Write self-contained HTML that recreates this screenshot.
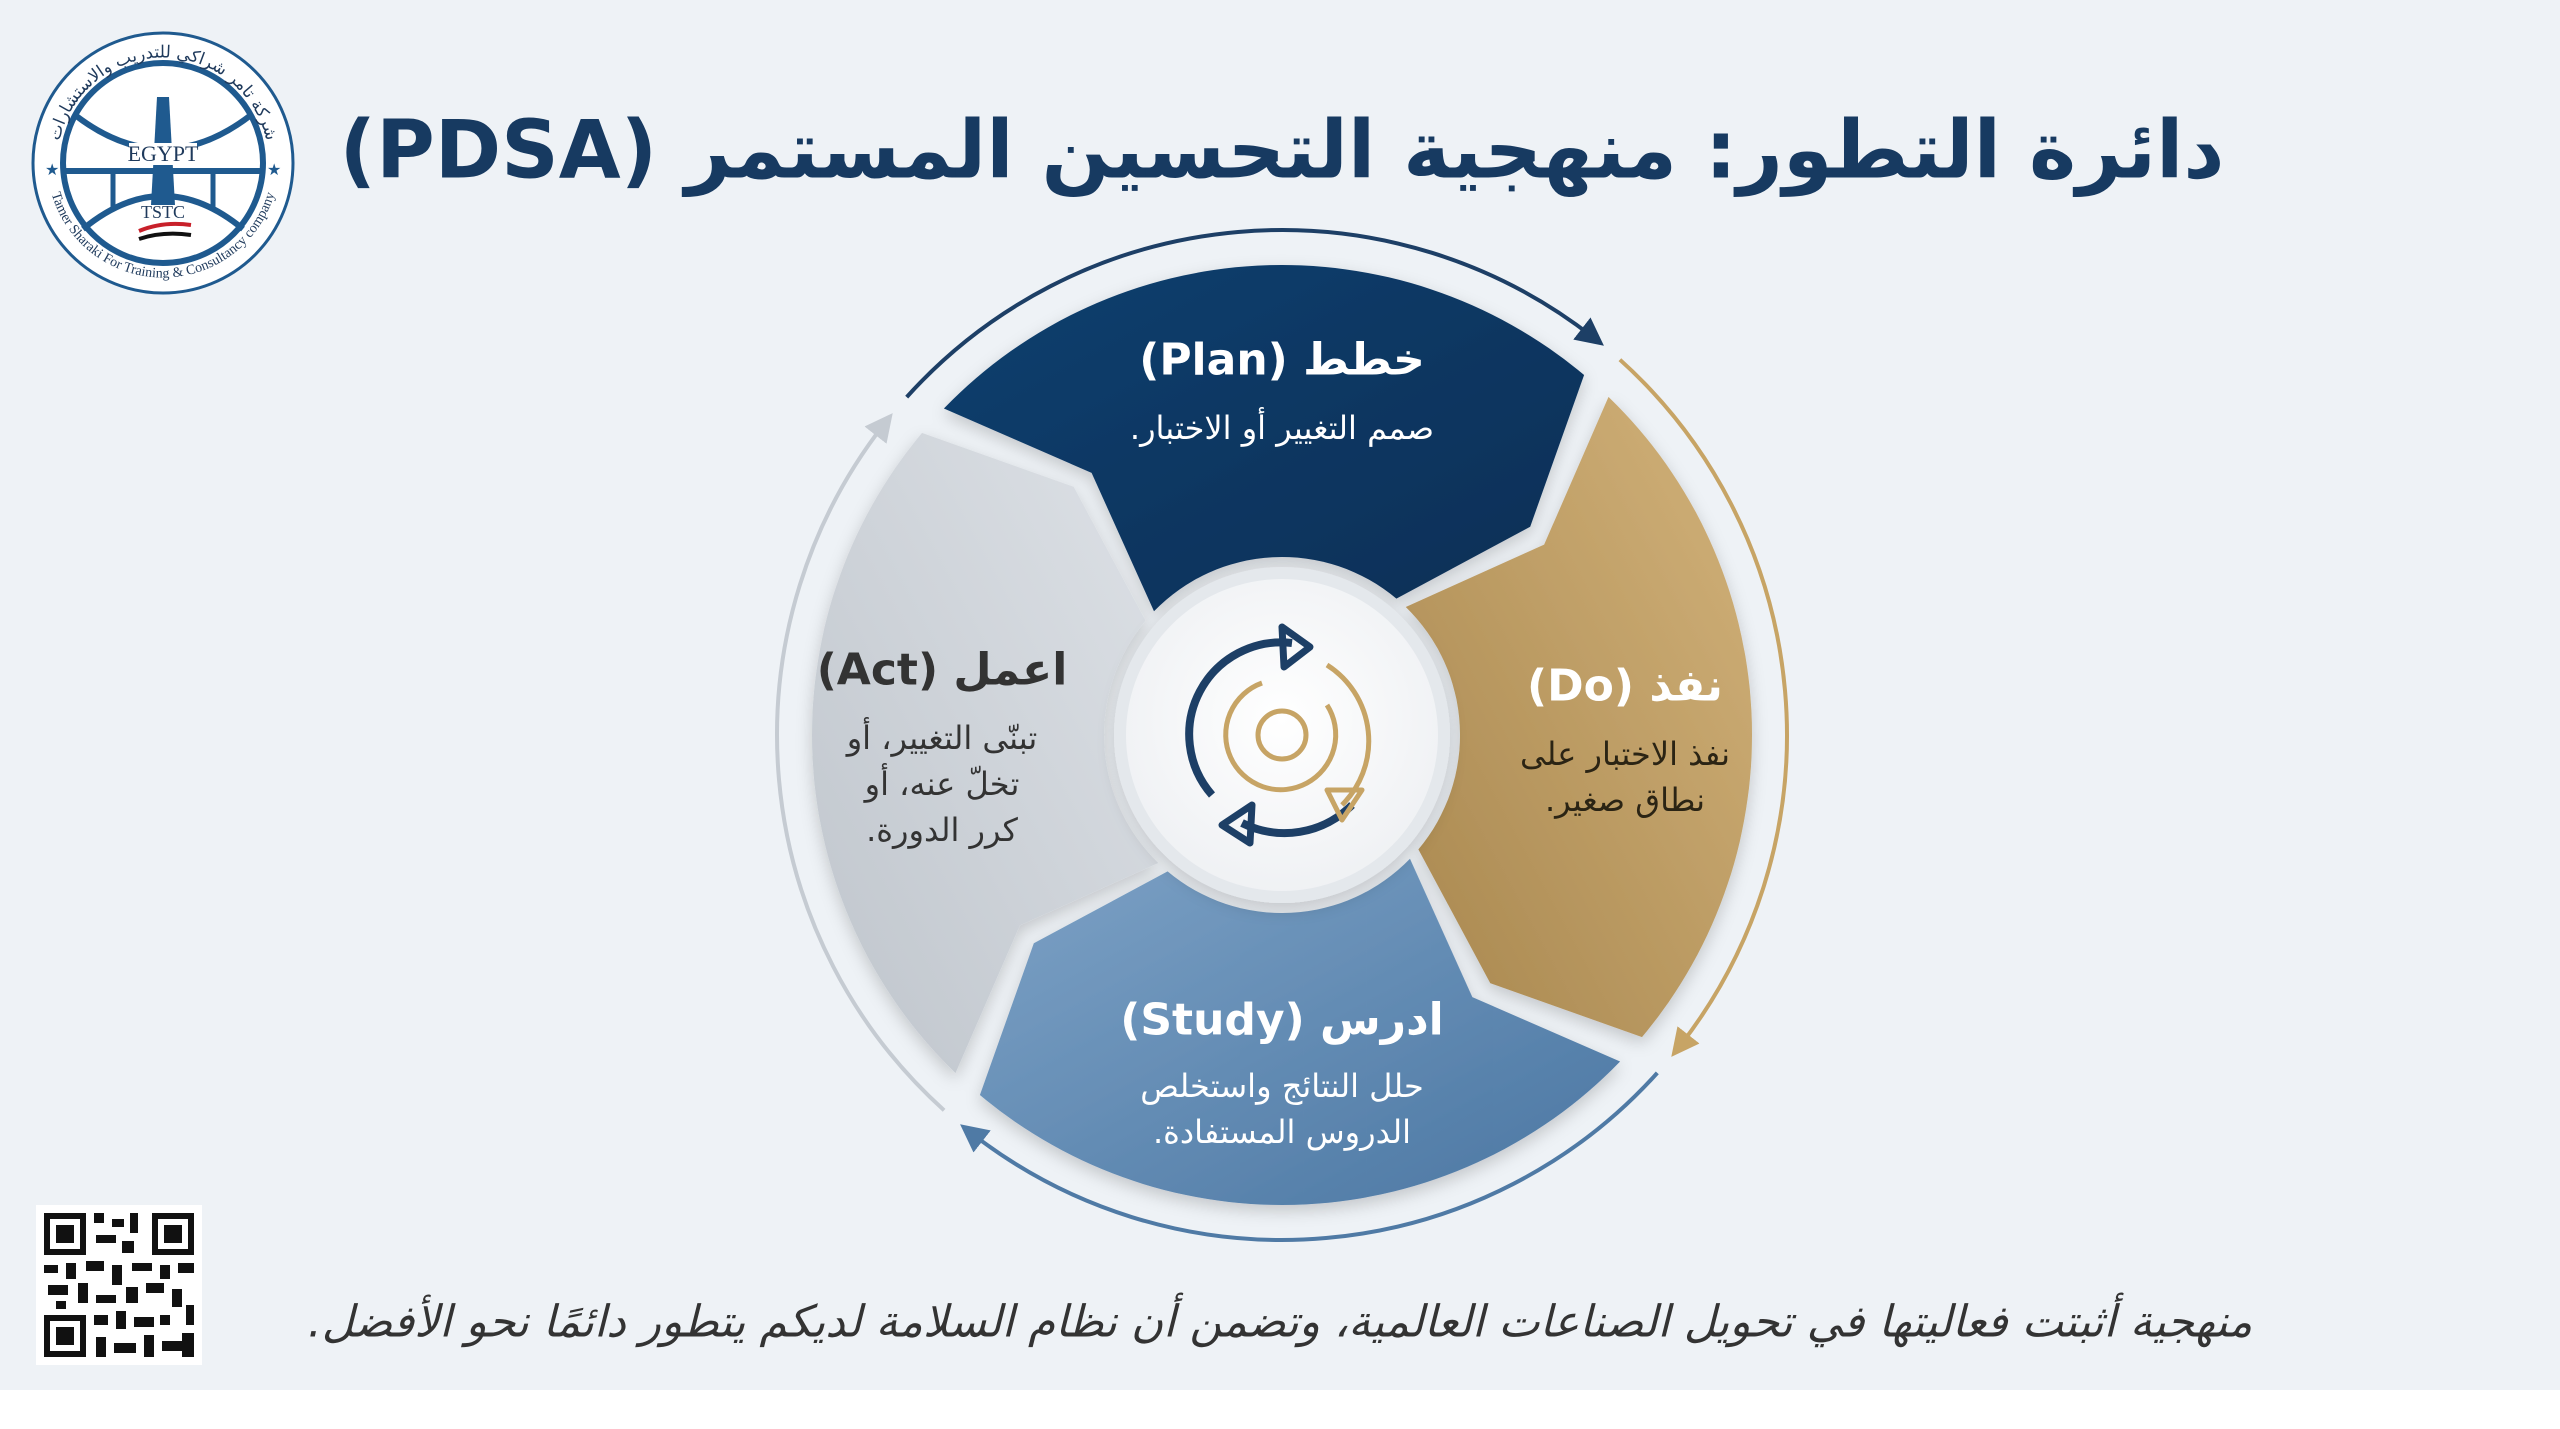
<!DOCTYPE html>
<html><head><meta charset="utf-8">
<style>
html,body{margin:0;padding:0}
body{width:2560px;height:1429px;position:relative;overflow:hidden;background:#fff;font-family:"DejaVu Sans","Liberation Sans",sans-serif}
#bg{position:absolute;left:0;top:0;width:2560px;height:1390px;background:#eef2f6}
svg{position:absolute;left:0;top:0}
.t{position:absolute;transform:translate(-50%,-50%);white-space:nowrap;text-align:center;direction:rtl}
</style></head><body>
<div id="bg"></div>
<svg width="2560" height="1429" viewBox="0 0 2560 1429">
<defs>
<linearGradient id="gP" x1="0" y1="0" x2="1" y2="1"><stop offset="0" stop-color="#0f3f6f"/><stop offset="1" stop-color="#0b2f55"/></linearGradient>
<linearGradient id="gD" x1="0" y1="0" x2="1" y2="1"><stop offset="0" stop-color="#d2b27a"/><stop offset="1" stop-color="#a8874f"/></linearGradient>
<linearGradient id="gS" x1="0" y1="0" x2="1" y2="1"><stop offset="0" stop-color="#4a76a2"/><stop offset="1" stop-color="#7da2c6"/></linearGradient>
<linearGradient id="gA" x1="0" y1="0" x2="1" y2="1"><stop offset="0" stop-color="#bfc5cc"/><stop offset="1" stop-color="#dde1e6"/></linearGradient>
<radialGradient id="gC" cx="0.5" cy="0.45" r="0.6"><stop offset="0" stop-color="#ffffff"/><stop offset="1" stop-color="#eef0f3"/></radialGradient>
<marker id="mN" viewBox="0 0 10 10" refX="5" refY="5" markerWidth="7" markerHeight="7" orient="auto"><path d="M0,0 L10,5 L0,10 Z" fill="#1d3f66"/></marker>
<marker id="mG" viewBox="0 0 10 10" refX="5" refY="5" markerWidth="7" markerHeight="7" orient="auto"><path d="M0,0 L10,5 L0,10 Z" fill="#c7a465"/></marker>
<marker id="mB" viewBox="0 0 10 10" refX="5" refY="5" markerWidth="7" markerHeight="7" orient="auto"><path d="M0,0 L10,5 L0,10 Z" fill="#4f7aa5"/></marker>
<marker id="mL" viewBox="0 0 10 10" refX="5" refY="5" markerWidth="7" markerHeight="7" orient="auto"><path d="M0,0 L10,5 L0,10 Z" fill="#c5cbd2"/></marker>
<filter id="sh" x="-20%" y="-20%" width="140%" height="140%"><feDropShadow dx="0" dy="6" stdDeviation="8" flood-color="#000" flood-opacity="0.18"/></filter>
</defs>

<g transform="translate(1282,735)">
  <path d="M-375.3,-337.9 A505,505 0 0 1 310.9,-397.9" fill="none" stroke="#1d3f66" stroke-width="4" marker-end="url(#mN)"/>
  <g transform="rotate(90)"><path d="M-375.3,-337.9 A505,505 0 0 1 310.9,-397.9" fill="none" stroke="#c7a465" stroke-width="4" marker-end="url(#mG)"/></g>
  <g transform="rotate(180)"><path d="M-375.3,-337.9 A505,505 0 0 1 310.9,-397.9" fill="none" stroke="#4f7aa5" stroke-width="4" marker-end="url(#mB)"/></g>
  <g transform="rotate(270)"><path d="M-375.3,-337.9 A505,505 0 0 1 310.9,-397.9" fill="none" stroke="#c5cbd2" stroke-width="4" marker-end="url(#mL)"/></g>

  <g filter="url(#sh)">
  <path d="M-338.1,-326.5 A470,470 0 0 1 302.1,-360.0 L248.2,-208.3 L114.4,-136.4 A178,178 0 0 0 -128.0,-123.7 L-190.4,-262.1 Z" fill="url(#gP)"/>
  <path transform="rotate(90)" d="M-338.1,-326.5 A470,470 0 0 1 302.1,-360.0 L248.2,-208.3 L114.4,-136.4 A178,178 0 0 0 -128.0,-123.7 L-190.4,-262.1 Z" fill="url(#gD)"/>
  <path transform="rotate(180)" d="M-338.1,-326.5 A470,470 0 0 1 302.1,-360.0 L248.2,-208.3 L114.4,-136.4 A178,178 0 0 0 -128.0,-123.7 L-190.4,-262.1 Z" fill="url(#gS)"/>
  <path transform="rotate(270)" d="M-338.1,-326.5 A470,470 0 0 1 302.1,-360.0 L248.2,-208.3 L114.4,-136.4 A178,178 0 0 0 -128.0,-123.7 L-190.4,-262.1 Z" fill="url(#gA)"/>
  </g>

  <circle r="168" fill="#e4e8ec" filter="url(#sh)"/>
  <circle r="156" fill="url(#gC)"/>
  <path d="M-70,60 A92,92 0 0 1 10,-92" fill="none" stroke="#1d3f66" stroke-width="8"/>
  <path d="M0,-108 L28,-88 L2,-68 Z" fill="none" stroke="#1d3f66" stroke-width="7" stroke-linejoin="round"/>
  <path d="M70,70 A95,95 0 0 1 -40,88" fill="none" stroke="#1d3f66" stroke-width="8"/>
  <path d="M-30,70 L-60,90 L-32,108 Z" fill="none" stroke="#1d3f66" stroke-width="7" stroke-linejoin="round"/>
  <path d="M-20,-52 A55,55 0 1 0 45,-30" fill="none" stroke="#c7a465" stroke-width="5"/>
  <path d="M45,-70 A90,90 0 0 1 60,70" fill="none" stroke="#c7a465" stroke-width="5"/>
  <path d="M45,55 L60,85 L80,55 Z" fill="none" stroke="#c7a465" stroke-width="5" stroke-linejoin="round"/>
  <circle r="24" fill="none" stroke="#c7a465" stroke-width="5"/>
</g>

<!-- logo -->
<g transform="translate(163,163)" fill="none" stroke="#1f5a8f">
  <circle r="130" fill="#fff" stroke-width="3"/>
  <circle r="100" stroke-width="6"/>
  <line x1="-100" y1="8" x2="100" y2="8" stroke-width="6"/>
  <path d="M-88,-48 Q0,20 88,-48" stroke-width="6"/>
  <path d="M-80,66 Q0,0 80,66" stroke-width="6"/>
  <line x1="-50" y1="8" x2="-50" y2="48" stroke-width="5"/>
  <line x1="50" y1="8" x2="50" y2="48" stroke-width="5"/>
  <path d="M-6,-66 L6,-66 L12,42 L-12,42 Z" fill="#1f5a8f" stroke="none"/>
  <rect x="-34" y="-20" width="68" height="22" fill="#fff" stroke="none"/>
  <text x="0" y="-2" text-anchor="middle" font-family="Liberation Serif" font-size="22" fill="#1f3a5c" stroke="none">EGYPT</text>
  <text x="0" y="55" text-anchor="middle" font-family="Liberation Serif" font-size="18" fill="#1f3a5c" stroke="none">TSTC</text>
  <path d="M-24,68 Q0,58 28,62" stroke="#c8202a" stroke-width="4"/>
  <path d="M-24,76 Q0,68 28,72" stroke="#111" stroke-width="4"/>
  <text x="-118" y="12" font-size="16" fill="#1f5a8f" stroke="none">★</text>
  <text x="104" y="12" font-size="16" fill="#1f5a8f" stroke="none">★</text>
  <path id="lp" d="M-114,20 A116,116 0 0 0 114,20" stroke="none"/>
  <text font-family="Liberation Serif" font-size="14" fill="#1f3a5c" stroke="none"><textPath href="#lp" startOffset="50%" text-anchor="middle">Tamer Sharaki For Training &amp; Consultancy company</textPath></text>
  <path id="lp2" d="M-104,-20 A106,106 0 0 1 104,-20" stroke="none"/>
  <text font-family="DejaVu Sans" font-size="17" fill="#1f3a5c" stroke="none"><textPath href="#lp2" startOffset="50%" text-anchor="middle">شركة تامر شراكي للتدريب والاستشارات</textPath></text>
</g>

<!-- QR -->
<g transform="translate(36,1205)">
  <rect width="166" height="160" fill="#fff"/>
  <g fill="#111">
    <rect x="8" y="8" width="42" height="42"/><rect x="14" y="14" width="30" height="30" fill="#fff"/><rect x="20" y="20" width="18" height="18"/>
    <rect x="116" y="8" width="42" height="42"/><rect x="122" y="14" width="30" height="30" fill="#fff"/><rect x="128" y="20" width="18" height="18"/>
    <rect x="8" y="110" width="42" height="42"/><rect x="14" y="116" width="30" height="30" fill="#fff"/><rect x="20" y="122" width="18" height="18"/>
    <rect x="58" y="8" width="10" height="10"/><rect x="76" y="14" width="12" height="8"/><rect x="94" y="8" width="8" height="20"/>
    <rect x="60" y="30" width="20" height="8"/><rect x="86" y="36" width="12" height="12"/><rect x="8" y="60" width="14" height="8"/>
    <rect x="30" y="58" width="10" height="16"/><rect x="50" y="56" width="18" height="10"/><rect x="76" y="60" width="10" height="20"/>
    <rect x="96" y="58" width="20" height="8"/><rect x="124" y="60" width="10" height="14"/><rect x="142" y="58" width="16" height="10"/>
    <rect x="12" y="80" width="20" height="10"/><rect x="42" y="78" width="10" height="20"/><rect x="60" y="90" width="20" height="8"/>
    <rect x="90" y="82" width="12" height="16"/><rect x="110" y="78" width="18" height="10"/><rect x="136" y="84" width="10" height="18"/>
    <rect x="150" y="100" width="8" height="20"/><rect x="58" y="110" width="14" height="10"/><rect x="80" y="106" width="10" height="18"/>
    <rect x="98" y="112" width="20" height="10"/><rect x="124" y="110" width="10" height="10"/><rect x="60" y="132" width="10" height="20"/>
    <rect x="78" y="138" width="22" height="10"/><rect x="108" y="130" width="10" height="22"/><rect x="126" y="136" width="20" height="10"/>
    <rect x="146" y="128" width="12" height="24"/><rect x="20" y="96" width="10" height="8"/>
  </g>
</g>
</svg>

<div class="t" style="left:1282px;top:150px;font-size:80px;font-weight:bold;color:#173a61">دائرة التطور: منهجية التحسين المستمر (PDSA)</div>

<div class="t" style="left:1282px;top:360px;font-size:44px;font-weight:bold;color:#fff">خطط (Plan)</div>
<div class="t" style="left:1282px;top:428px;font-size:32px;color:#fff">صمم التغيير أو الاختبار.</div>

<div class="t" style="left:1625px;top:686px;font-size:44px;font-weight:bold;color:#fff">نفذ (Do)</div>
<div class="t" style="left:1625px;top:777px;font-size:32px;line-height:46px;color:#2b2414">نفذ الاختبار على<br>نطاق صغير.</div>

<div class="t" style="left:1282px;top:1020px;font-size:44px;font-weight:bold;color:#fff">ادرس (Study)</div>
<div class="t" style="left:1282px;top:1109px;font-size:32px;line-height:46px;color:#fff">حلل النتائج واستخلص<br>الدروس المستفادة.</div>

<div class="t" style="left:942px;top:670px;font-size:44px;font-weight:bold;color:#333">اعمل (Act)</div>
<div class="t" style="left:942px;top:784px;font-size:32px;line-height:46px;color:#333">تبنّى التغيير، أو<br>تخلّ عنه، أو<br>كرر الدورة.</div>

<div class="t" style="left:1280px;top:1322px;font-size:44px;font-style:italic;color:#333">منهجية أثبتت فعاليتها في تحويل الصناعات العالمية، وتضمن أن نظام السلامة لديكم يتطور دائمًا نحو الأفضل.</div>
</body></html>
